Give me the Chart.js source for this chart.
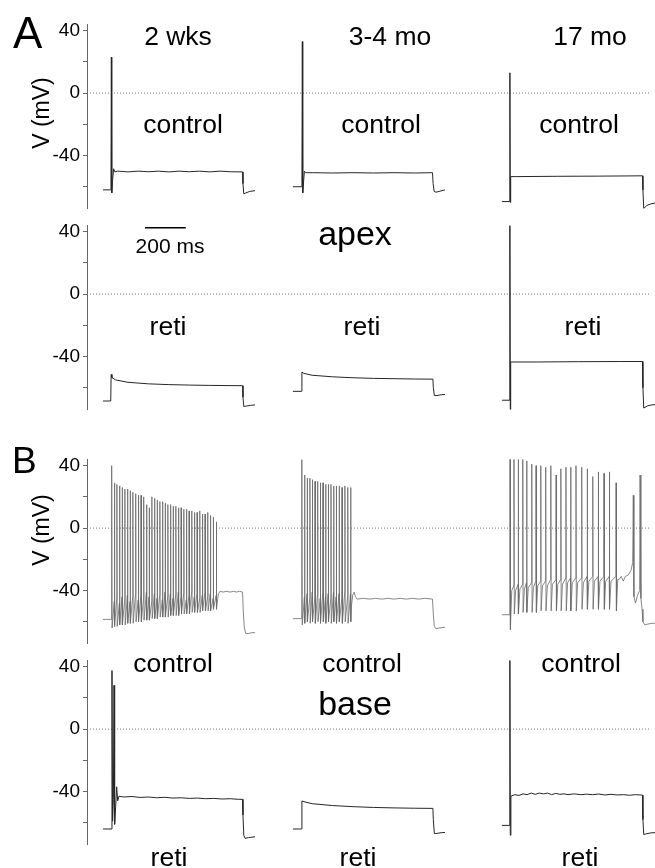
<!DOCTYPE html>
<html>
<head>
<meta charset="utf-8">
<script src="https://cdn.jsdelivr.net/npm/chart.js@4.4.0/dist/chart.umd.min.js"></script>
<style>
  body { margin: 0; background: #fff; }
  #fig { position: relative; width: 655px; height: 868px; overflow: hidden;
         font-family: Arial, "Liberation Sans", sans-serif; color: #000; }
  canvas { position: absolute; left: 0; }
  .t { position: absolute; white-space: nowrap; line-height: 1; z-index: 2; }
</style>
</head>
<body>
<div id="fig">
  <canvas id="rowAc" width="655" height="213"></canvas>
  <canvas id="rowAr" width="655" height="213"></canvas>
  <canvas id="rowBc" width="655" height="213"></canvas>
  <canvas id="rowBr" width="655" height="213"></canvas>
</div>
<script>
// time in ms along each row, voltage in mV

const yTicks = [-60, -40, -20, 0, 20, 40];

// ---- A, apex, control ----
const apexCtl2w = [[78,-62],[115,-62],[117,-60],[119,23],[121,-64],[125,-56],[130,-48.5],[136,-50.5],[150,-50],[200,-50.5],[250,-50],[300,-50.4],[350,-50],[400,-50.5],[450,-50],[500,-50.4],[550,-50],[600,-50.5],[650,-50],[700,-50.4],[760,-50.5],[762,-58],[766,-64.5],[775,-64],[795,-63],[821,-62.5]];
const apexCtl3m = [[1006,-60],[1048,-60],[1050,-58],[1052,33],[1054,-64],[1058,-57],[1062,-50],[1068,-51],[1100,-51],[1200,-51.2],[1300,-51],[1400,-51.2],[1500,-51],[1600,-51.2],[1688,-51],[1691,-58],[1696,-63],[1705,-63.5],[1720,-63],[1749,-62]];
const apexCtl17m = [[2027,-69.5],[2064,-69.5],[2066,13],[2068,-70],[2070,-53.5],[2100,-53.5],[2300,-53.3],[2500,-53.2],[2714,-53],[2716,-62],[2720,-74],[2735,-72],[2755,-71],[2775,-70.5]];

// ---- A, apex, reti ----
const apexRet2w = [[78,-68.5],[116,-68.5],[118,-51.5],[122,-53.5],[140,-55],[200,-56.5],[300,-57.5],[400,-58],[500,-58.3],[600,-58.5],[760,-58.7],[762,-66],[766,-72],[780,-71.7],[800,-71.3],[821,-71]];
const apexRet3m = [[1006,-62.3],[1048,-62.3],[1050,-50],[1060,-50.8],[1100,-52],[1200,-53],[1300,-53.6],[1400,-54],[1500,-54.2],[1600,-54.4],[1690,-54.5],[1692,-60],[1697,-65],[1710,-65],[1730,-64.5],[1749,-64.3]];
const apexRet17m = [[2027,-68],[2064,-68],[2066,44],[2068,-74],[2070,-43.5],[2200,-43.5],[2400,-43.3],[2600,-43.2],[2714,-43.2],[2716,-60],[2720,-73],[2740,-71.5],[2760,-71],[2775,-70.8]];

// ---- B, base, control (spike trains) ----
const baseCtl2wPre = [[78,-58.5],[119,-58.5]];
const baseCtl2wTimes = [121,134,146,159,172,185,198,211,224,238,251,264,277,291,304,317,330,343,356,369,382,395,408,421,434,447,460,473,486,499,512,525,538,551,564,577,590,603,617,632];
const baseCtl2wPeaks = [40,29,28,27,26,25,25,24,23,22,21,21,20,15,13,20,19,18,17,17,16,15,15,14,14,13,13,12,12,11,11,10,10,11,9,9,10,8,7,4];
const baseCtl2wTroughs = [-64,-63,-63,-62,-62,-62,-61,-61,-61,-60,-60,-60,-59,-59,-59,-58,-58,-58,-57,-57,-57,-57,-56,-56,-56,-56,-55,-55,-55,-55,-54,-54,-54,-54,-53,-53,-53,-53,-52,-52];
const baseCtl2wThresh = [-50,-47,-45,-48,-44,-46,-43,-47,-44,-42,-46,-43,-45,-41,-44,-47,-42,-45,-43,-46,-41,-44,-42,-45,-43,-41,-44,-42,-46,-43,-41,-44,-42,-45,-43,-41,-44,-42,-45,-43];
const baseCtl2wPost = [[636,-48],[642,-42],[650,-40.5],[665,-41],[680,-40.5],[700,-41],[715,-40.5],[730,-41],[745,-40.5],[760,-41],[763,-52],[768,-63],[775,-67.5],[790,-67.5],[805,-67],[821,-67]];

const baseCtl3mPre = [[1006,-58],[1048,-58]];
const baseCtl3mTimes = [1050,1063,1076,1089,1101,1114,1127,1140,1153,1166,1179,1192,1205,1218,1232,1246,1260,1274,1288];
const baseCtl3mPeaks = [44,34,32,32,31,30,30,29,29,28,28,28,27,27,27,26,27,26,26];
const baseCtl3mTroughs = [-62,-61,-60,-61,-60,-61,-60,-61,-60,-61,-60,-61,-60,-61,-60,-61,-60,-61,-60];
const baseCtl3mThresh = [-50,-44,-42,-45,-41,-44,-42,-45,-41,-44,-42,-45,-41,-44,-42,-45,-41,-44,-42];
const baseCtl3mPost = [[1292,-50],[1298,-43],[1305,-41],[1312,-44],[1320,-45.5],[1350,-45],[1380,-45.5],[1410,-45],[1440,-45.5],[1470,-45],[1500,-45.5],[1530,-45],[1560,-45.5],[1590,-45],[1620,-45.5],[1650,-45],[1688,-45.5],[1692,-55],[1697,-63],[1705,-64.5],[1720,-64],[1749,-63.5]];

const baseCtl17mPre = [[2027,-55.5],[2065,-55.5]];
const baseCtl17mTimes = [2067,2086,2107,2129,2148,2173,2194,2217,2241,2266,2292,2315,2340,2363,2389,2417,2444,2471,2498,2526,2552,2585];
const baseCtl17mPeaks = [45,45,45,45,43,41,40,40,39,40,34,38,39,39,40,39,38,33,36,35,36,29];
const baseCtl17mTroughs = [-65,-55,-55,-54,-54,-54,-54,-53,-53,-53,-53,-53,-53,-53,-53,-52,-52,-52,-52,-52,-52,-53];
const baseCtl17mKnees = [-40,-40,-39,-39,-38,-38,-37,-37,-37,-36,-36,-36,-35,-35,-35,-35,-34,-34,-34,-34,-34,-33];
const baseCtl17mThresh = [-50,-37,-36,-36,-35,-35,-34,-34,-34,-33,-33,-33,-32,-32,-32,-32,-31,-31,-31,-31,-31,-31];
const baseCtl17mPost = [[2600,-33],[2610,-31],[2620,-34],[2630,-31],[2645,-30],[2658,-27],[2666,-22],[2669,21],[2672,-44],[2680,-48],[2690,-43],[2700,-40],[2702,34],[2706,-45],[2712,-52],[2716,-60],[2725,-62],[2740,-61.5],[2760,-61],[2775,-61]];

// ---- B, base, reti ----
const baseRet2w = [[78,-64],[118,-64],[122,37.5],[125,-59],[129,-45],[132,28],[135,-61],[140,-50],[145,-37],[150,-46],[156,-43],[180,-43.5],[220,-43.2],[260,-43.8],[300,-43.5],[340,-44],[380,-43.7],[420,-44.2],[460,-44],[500,-44.4],[540,-44.2],[580,-44.6],[620,-44.4],[660,-44.8],[700,-44.6],[740,-45],[760,-45],[762,-55],[766,-68],[772,-70],[790,-69.5],[821,-69]];
const baseRet3m = [[1006,-64],[1048,-64],[1050,-46],[1060,-46.5],[1100,-47.8],[1200,-49],[1300,-49.7],[1400,-50.2],[1500,-50.5],[1600,-50.7],[1690,-50.8],[1692,-58],[1697,-67],[1710,-66.8],[1730,-66.4],[1749,-66.2]];
const baseRet17m = [[2027,-61.7],[2064,-61.7],[2066,44.6],[2068,-68],[2071,-43],[2090,-42],[2110,-42.5],[2130,-41.5],[2150,-42],[2170,-41],[2190,-41.8],[2210,-41],[2230,-41.5],[2250,-41],[2270,-42],[2290,-41.2],[2310,-41.8],[2330,-41.5],[2350,-42],[2380,-41.5],[2410,-42],[2440,-41.7],[2470,-42],[2500,-41.6],[2530,-42.2],[2560,-41.8],[2590,-42.2],[2620,-42],[2650,-42.4],[2680,-42],[2714,-42.3],[2716,-58],[2720,-67.5],[2735,-67],[2755,-66.5],[2775,-66.3]];

// 200 ms scale bar (ms, mV)
const scaleBar = [[283,42.5],[483,42.5]];

function spikeTrain(pre, times, peaks, troughs, thresh, post, knees) {
  const pts = pre.slice();
  times.forEach((t, i) => {
    pts.push([t - 0.8, thresh[i]], [t, peaks[i]], [t + 1.6, troughs[i]]);
    if (knees) pts.push([t + 8, knees[i]]);
  });
  return pts.concat(post);
}

const baseCtl2w = spikeTrain(baseCtl2wPre, baseCtl2wTimes, baseCtl2wPeaks, baseCtl2wTroughs, baseCtl2wThresh, baseCtl2wPost);
const baseCtl3m = spikeTrain(baseCtl3mPre, baseCtl3mTimes, baseCtl3mPeaks, baseCtl3mTroughs, baseCtl3mThresh, baseCtl3mPost);
const baseCtl17m = spikeTrain(baseCtl17mPre, baseCtl17mTimes, baseCtl17mPeaks, baseCtl17mTroughs, baseCtl17mThresh, baseCtl17mPost, baseCtl17mKnees);

Chart.defaults.font.family = 'Arial, "Liberation Sans", sans-serif';

const flat = { color: "#262626", width: 1 };
const spiky = { color: "#6a6a6a", width: 0.8 };

function makeRow(id, top, traces, style, extra) {
  const canvas = document.getElementById(id);
  canvas.style.top = top + "px";
  const datasets = traces.map((d) => ({
    data: d,
    borderColor: style.color,
    borderWidth: style.width,
  }));
  datasets.push({
    data: [[0, 0], [2750, 0]],
    borderColor: "#777",
    borderWidth: 1,
    borderDash: [1, 2],
  });
  if (extra) datasets.push(extra);

  new Chart(canvas.getContext("2d"), {
    type: "line",
    data: { datasets: datasets },
    options: {
      animation: false,
      responsive: false,
      layout: { padding: { top: 12, bottom: 12, left: 0, right: 0 } },
      plugins: { legend: { display: false }, tooltip: { enabled: false } },
      elements: { point: { radius: 0 }, line: { tension: 0 } },
      scales: {
        x: { type: "linear", min: 0, max: 2775, display: false },
        y: {
          min: -74,
          max: 44,
          afterFit: (scale) => { scale.width = 87; },
          afterBuildTicks: (scale) => { scale.ticks = yTicks.map((v) => ({ value: v })); },
          ticks: {
            color: "#000",
            padding: 3,
            font: { size: 19 },
            callback: (v) => (v % 40 === 0 ? String(v) : ""),
          },
          grid: { drawOnChartArea: false, tickLength: 4, color: "#666" },
          border: { color: "#666", width: 1 },
        },
      },
    },
  });
}

makeRow("rowAc", 10, [apexCtl2w, apexCtl3m, apexCtl17m], flat);
makeRow("rowAr", 211, [apexRet2w, apexRet3m, apexRet17m], flat, {
  data: scaleBar, borderColor: "#000", borderWidth: 1.5,
});
makeRow("rowBc", 445, [baseCtl2w, baseCtl3m, baseCtl17m], spiky);
makeRow("rowBr", 646, [baseRet2w, baseRet3m, baseRet17m], flat);

// text labels: [text, x, baseline, size, anchor]
const textLayout = [
  ["A", 13, 48, 44, "left"],
  ["B", 12, 473, 37, "left"],
  ["2 wks", 178, 45, 26.5], ["3-4 mo", 390, 45, 26.5], ["17 mo", 590, 45, 26.5],
  ["control", 183, 133, 26.5], ["control", 381, 133, 26.5], ["control", 579, 133, 26.5],
  ["apex", 355, 245, 34],
  ["200 ms", 170, 253, 21],
  ["reti", 168, 335, 26.5], ["reti", 362, 335, 26.5], ["reti", 583, 335, 26.5],
  ["control", 173, 672, 26.5], ["control", 362, 672, 26.5], ["control", 581, 672, 26.5],
  ["base", 355, 715, 34],
  ["reti", 169, 866, 26.5], ["reti", 358, 866, 26.5], ["reti", 580, 866, 26.5],
];
const fig = document.getElementById("fig");
textLayout.forEach(([txt, x, base, size, anchor]) => {
  const el = document.createElement("div");
  el.className = "t";
  el.textContent = txt;
  el.style.fontSize = size + "px";
  el.style.left = x + "px";
  el.style.top = (base - 0.847 * size) + "px";
  if (anchor !== "left") el.style.transform = "translateX(-50%)";
  fig.appendChild(el);
});

// rotated axis titles
[113, 530].forEach((cy) => {
  const el = document.createElement("div");
  el.className = "t";
  el.textContent = "V (mV)";
  el.style.fontSize = "23px";
  el.style.left = "41px";
  el.style.top = cy + "px";
  el.style.transform = "translate(-50%, -50%) rotate(-90deg)";
  fig.appendChild(el);
});
</script>
</body>
</html>
